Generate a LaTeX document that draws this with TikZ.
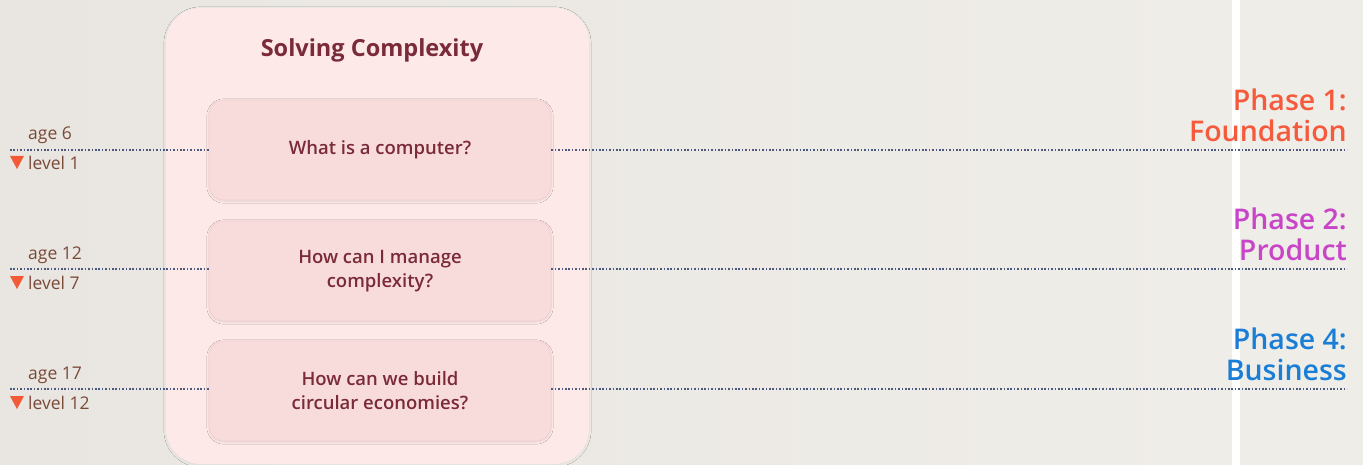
\documentclass[tikz,border=0pt]{standalone}
\usepackage{fontspec}
\setmainfont{Open Sans}[BoldFont={Open Sans Semibold}]
\newfontfamily\heavyfont{Open Sans}
\usetikzlibrary{shadows.blur}
\definecolor{bgL}{HTML}{E9E6E1}
\definecolor{bgR}{HTML}{EFEDE8}
\definecolor{panel}{HTML}{FCE9E8}
\definecolor{card}{HTML}{F8DCDC}
\definecolor{cardline}{HTML}{F4CFCF}
\definecolor{wine}{HTML}{7A2A38}
\definecolor{brown}{HTML}{7A4A38}
\definecolor{tri}{HTML}{F25A38}
\definecolor{dotc}{HTML}{4C5A80}
\definecolor{ph1}{HTML}{F65A3C}
\definecolor{ph2}{HTML}{C845C8}
\definecolor{ph4}{HTML}{1A7ED6}
\tikzset{
  card/.style={draw=cardline, line width=0.8pt, fill=card, rounded corners=15pt,
    minimum width=342pt, minimum height=100pt, inner sep=0pt,
    text=wine, font=\fontsize{18.5}{24}\selectfont\bfseries, align=center,
    blur shadow={shadow xshift=0pt, shadow yshift=-1pt, shadow blur steps=6, shadow opacity=10}},
  guide/.style={dotc, line width=1.4pt, dash pattern=on 1.6pt off 1.8pt},
  agelbl/.style={text=brown, font=\fontsize{17.5}{19}\selectfont, anchor=west, inner sep=0pt},
  phase/.style={font=\fontsize{28.5}{31}\selectfont\bfseries, align=right, anchor=east, inner sep=0pt},
}
\begin{document}
\begin{tikzpicture}[x=1pt,y=-1pt]
\useasboundingbox (0,0) rectangle (1363,465);
\fill[left color=bgL, right color=bgR] (0,0) rectangle (1232,465);
\fill[white] (1232,0) rectangle (1240,465);
\fill[bgR] (1240,0) rectangle (1363,465);
% panel
\node[draw=none, fill=panel, rounded corners=35pt, minimum width=423pt, minimum height=456pt,
  inner sep=0pt, blur shadow={shadow xshift=0pt, shadow yshift=-1pt, shadow opacity=5}] (panel) at (377.5,236) {};
\node[text=wine, font=\heavyfont\fontsize{23.5}{28}\selectfont\bfseries] (title) at (372,50) {Solving Complexity};
% guide lines
\coordinate (l1) at (10,150); \coordinate (r1) at (1347,150);
\coordinate (l2) at (10,269); \coordinate (r2) at (1347,269);
\coordinate (l3) at (10,389); \coordinate (r3) at (1347,389);
\node[card] (c1) at (380,150) {What is a computer?};
\node[card] (c2) at (380,271) {How can I manage\\ complexity?};
\node[card] (c3) at (380,391) {How can we build\\ circular economies?};
\draw[guide] (l1) -- (l1 -| c1.west);
\draw[guide] (c1.east |- r1) -- (r1);
\draw[guide] (l2) -- (l2 -| c2.west);
\draw[guide] (c2.east |- r2) -- (r2);
\draw[guide] (l3) -- (l3 -| c3.west);
\draw[guide] (c3.east |- r3) -- (r3);
% left labels
\node[agelbl] (a1) at (28,135) {age 6};
\node[agelbl] (v1) at (28,163) {level 1};
\node[agelbl] (a2) at (28,255) {age 12};
\node[agelbl] (v2) at (28,283) {level 7};
\node[agelbl] (a3) at (28,375) {age 17};
\node[agelbl] (v3) at (28,403) {level 12};
\foreach \y in {163,283,403}{\fill[tri] (10,\y-7) -- (24,\y-7) -- (17,\y+6) -- cycle;}
% phases
\node[phase, text=ph1] (p1) at (1347,115) {Phase 1:\\Foundation};
\node[phase, text=ph2] (p2) at (1347,234) {Phase 2:\\Product};
\node[phase, text=ph4] (p4) at (1347,354) {Phase 4:\\Business};
\end{tikzpicture}
\end{document}
